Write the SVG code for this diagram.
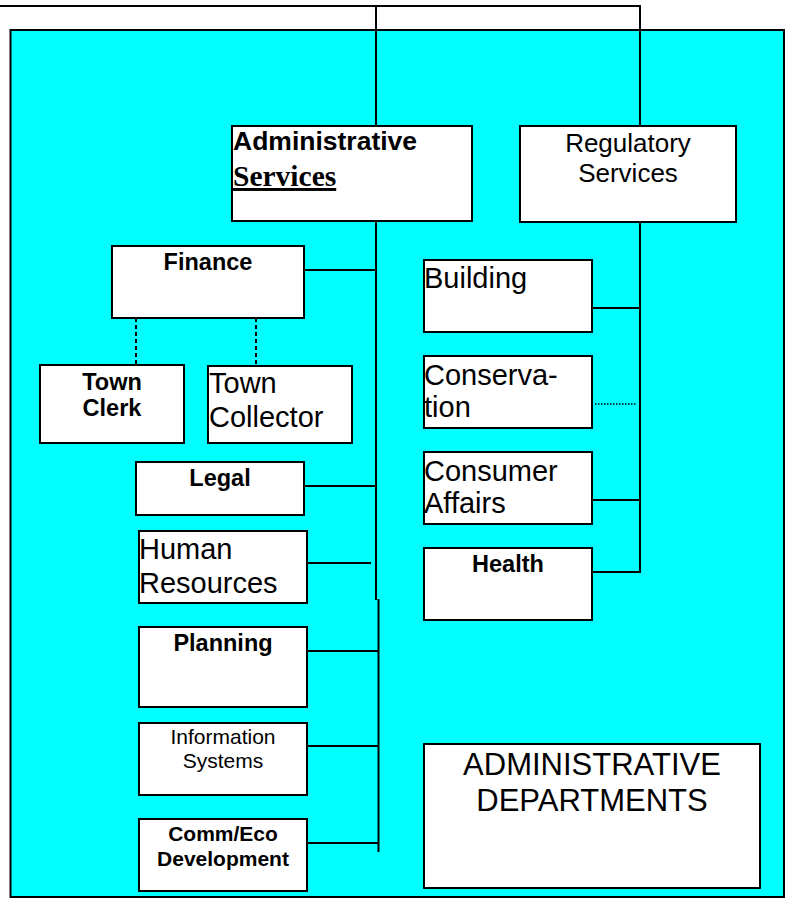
<svg xmlns="http://www.w3.org/2000/svg" width="793" height="899" viewBox="0 0 793 899">
<style>
.box{fill:#fff;stroke:#000;stroke-width:2}
.ln{fill:none;stroke:#000;stroke-width:2}
.dash{fill:none;stroke:#000;stroke-width:2;stroke-dasharray:4,3}
.dot{fill:none;stroke:#000;stroke-width:1.5;stroke-dasharray:1.5,1.5}
text{font-family:"Liberation Sans",Arial,sans-serif;fill:#000}
.b{font-weight:bold}
.r29{font-size:29px}
.b23{font-size:23.5px;font-weight:bold}
.c{text-anchor:middle}
</style>
<rect width="793" height="899" fill="#fff"/>
<g id="frame">
<rect x="10.5" y="30" width="773.5" height="867" fill="#00FFFF" stroke="#000" stroke-width="2"/>
</g>
<g id="connectors">
<polyline class="ln" points="0,6 640,6 640,126"/>
<line class="ln" x1="376" y1="6" x2="376" y2="126"/>
<line class="ln" x1="376" y1="221" x2="376" y2="600"/>
<line class="ln" x1="378.5" y1="599" x2="378.5" y2="852"/>
<line class="ln" x1="640" y1="222" x2="640" y2="573"/>
<line class="ln" x1="304" y1="270" x2="376" y2="270"/>
<line class="dash" x1="136" y1="318" x2="136" y2="365"/>
<line class="dash" x1="256" y1="318" x2="256" y2="366"/>
<line class="ln" x1="304" y1="486" x2="376" y2="486"/>
<line class="ln" x1="298" y1="563" x2="371" y2="563"/>
<line class="ln" x1="307" y1="651" x2="379" y2="651"/>
<line class="ln" x1="307" y1="746" x2="379" y2="746"/>
<line class="ln" x1="307" y1="843" x2="379" y2="843"/>
<line class="ln" x1="592" y1="308" x2="640" y2="308"/>
<line class="dot" x1="595" y1="404" x2="637" y2="404"/>
<line class="ln" x1="592" y1="500" x2="640" y2="500"/>
<line class="ln" x1="592" y1="572" x2="640" y2="572"/>
</g>
<g id="admin-services">
<rect class="box" x="232" y="126" width="240" height="95"/>
<text class="b" x="233" y="150" font-size="26.5">Administrative</text>
<text x="233" y="186" font-size="29.5" font-weight="bold" style="font-family:'Liberation Serif','Times New Roman',serif" text-decoration="underline">Services</text>
</g>
<g id="regulatory-services">
<rect class="box" x="520" y="126" width="216" height="96"/>
<text class="c" x="628" y="152" font-size="26">Regulatory</text>
<text class="c" x="628" y="182" font-size="26">Services</text>
</g>
<g id="finance">
<rect class="box" x="112" y="246" width="192" height="72"/>
<text class="b23 c" x="208" y="270">Finance</text>
</g>
<g id="town-clerk">
<rect class="box" x="40" y="365" width="144" height="78"/>
<text class="b23 c" x="112" y="390">Town</text>
<text class="b23 c" x="112" y="416">Clerk</text>
</g>
<g id="town-collector">
<rect class="box" x="208" y="366" width="144" height="77"/>
<text class="r29" x="209" y="393">Town</text>
<text class="r29" x="209" y="427">Collector</text>
</g>
<g id="legal">
<rect class="box" x="136" y="462" width="168" height="53"/>
<text class="b23 c" x="220" y="486">Legal</text>
</g>
<g id="human-resources">
<rect class="box" x="139" y="531" width="168" height="72"/>
<text class="r29" x="139" y="559">Human</text>
<text class="r29" x="139" y="593">Resources</text>
</g>
<g id="planning">
<rect class="box" x="139" y="627" width="168" height="80"/>
<text class="b23 c" x="223" y="651">Planning</text>
</g>
<g id="information-systems">
<rect class="box" x="139" y="723" width="168" height="72"/>
<text class="c" x="223" y="744" font-size="21">Information</text>
<text class="c" x="223" y="768" font-size="21">Systems</text>
</g>
<g id="comm-eco-development">
<rect class="box" x="139" y="819" width="168" height="72"/>
<text class="b c" x="223" y="841" font-size="21">Comm/Eco</text>
<text class="b c" x="223" y="866" font-size="21">Development</text>
</g>
<g id="building">
<rect class="box" x="424" y="260" width="168" height="72"/>
<text class="r29" x="424" y="288">Building</text>
</g>
<g id="conservation">
<rect class="box" x="424" y="356" width="168" height="72"/>
<text class="r29" x="424" y="385">Conserva-</text>
<text class="r29" x="424" y="417">tion</text>
</g>
<g id="consumer-affairs">
<rect class="box" x="424" y="452" width="168" height="72"/>
<text class="r29" x="424" y="481">Consumer</text>
<text class="r29" x="424" y="513">Affairs</text>
</g>
<g id="health">
<rect class="box" x="424" y="548" width="168" height="72"/>
<text class="b23 c" x="508" y="572">Health</text>
</g>
<g id="administrative-departments">
<rect class="box" x="424" y="744" width="336" height="144"/>
<text class="c" x="592" y="775" font-size="31">ADMINISTRATIVE</text>
<text class="c" x="592" y="811" font-size="31">DEPARTMENTS</text>
</g>
</svg>
